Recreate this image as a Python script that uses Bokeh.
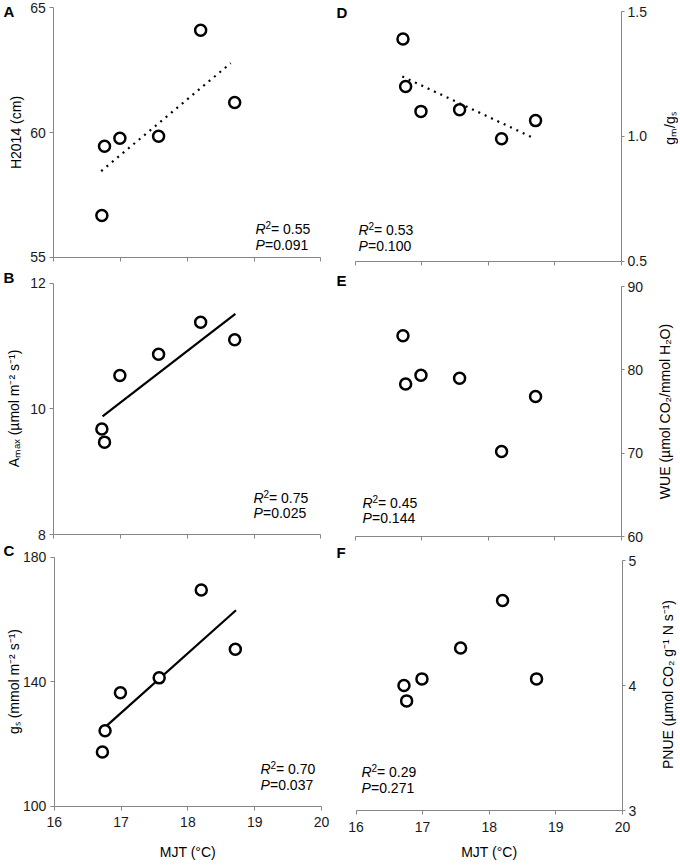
import math
from bokeh.plotting import figure
from bokeh.models import Range1d, Label, FixedTicker, NumeralTickFormatter
from bokeh.layouts import column, row
from bokeh.embed import file_html
from bokeh.resources import INLINE

# ---------------- data ----------------
mjt = [16.72, 16.76, 16.99, 17.57, 18.20, 18.71]

h2014 = [56.67, 59.45, 59.77, 59.85, 64.10, 61.20]
amax = [9.68, 9.47, 10.53, 10.87, 11.38, 11.10]
gs = [117.4, 124.2, 136.4, 141.2, 169.4, 150.4]
gm_gs = [1.39, 1.20, 1.10, 1.107, 0.99, 1.063]
wue = [84.1, 78.3, 79.35, 79.0, 70.2, 76.8]
pnue = [4.00, 3.877, 4.053, 4.30, 4.68, 4.053]

trend_a_x = [16.71, 18.65]
trend_a_y = [58.45, 62.78]
trend_b_x = [16.73, 18.72]
trend_b_y = [9.88, 11.51]
trend_c_x = [16.74, 18.72]
trend_c_y = [125.0, 162.9]
trend_d_x = [16.71, 18.65]
trend_d_y = [1.24, 0.997]

x_ticks = [16, 17, 18, 19, 20]
ticks_a = [55, 60, 65]
ticks_b = [8, 10, 12]
ticks_c = [100, 140, 180]
ticks_d = [0.5, 1.0, 1.5]
ticks_e = [60, 70, 80, 90]
ticks_f = [3, 4, 5]

r2_texts = ["0.55", "0.75", "0.70", "0.53", "0.45", "0.29"]
p_texts = ["0.091", "0.025", "0.037", "0.100", "0.144", "0.271"]
letters = ["A", "B", "C", "D", "E", "F"]
ylabels = [
    "H2014 (cm)",
    "A\u2098\u2090\u2093 (\u00b5mol m\u207b\u00b2 s\u207b\u00b9)",
    "g\u209b (mmol m\u207b\u00b2 s\u207b\u00b9)",
    "g\u2098/g\u209b",
    "WUE (\u00b5mol CO\u2082/mmol H\u2082O)",
    "PNUE (\u00b5mol CO\u2082 g\u207b\u00b9 N s\u207b\u00b9)",
]
xlabel = "MJT (\u00b0C)"

# ---------------- style / layout ----------------
FONT = "Liberation Sans"
AXIS_COL = "#868686"
LEFT_W, RIGHT_W = 334, 344
LEFT_ROWS = [(0, 270), (270, 272), (542, 318)]    # (top, height) page px
RIGHT_ROWS = [(0, 272), (272, 273), (545, 315)]


def make_panel(col_off, W, row, ys, yticks, frame, side, letter, letter_xy,
               ylabel, ylabel_xy, r2, pv, stats_xy, bottom_row,
               trend=None, dotted=False):
    row_off, H = row
    fx0, fx1, fy_top, fy_bot = frame
    lo, hi = yticks[0], yticks[-1]
    sx = (fx1 - fx0) / (x_ticks[-1] - x_ticks[0])
    x_start = x_ticks[0] - (fx0 - col_off) / sx
    x_end = x_ticks[-1] + (col_off + W - fx1) / sx
    sy = (fy_bot - fy_top) / (hi - lo)
    y_end = hi + (fy_top - row_off) / sy
    y_start = lo - (row_off + H - fy_bot) / sy

    p = figure(width=W, height=H, x_range=Range1d(x_start, x_end),
               y_range=Range1d(y_start, y_end), y_axis_location=side,
               min_border=0, output_backend="svg", toolbar_location=None)
    p.title.visible = False
    p.outline_line_color = None
    p.xgrid.visible = False
    p.ygrid.visible = False
    p.background_fill_color = "white"
    p.border_fill_color = "white"
    for ax in p.axis:
        ax.axis_line_color = AXIS_COL
        ax.axis_line_width = 1
        ax.major_tick_line_color = AXIS_COL
        ax.minor_tick_line_color = None
        ax.major_tick_out = 4
        ax.major_tick_in = 0
        ax.major_label_text_font = FONT
        ax.major_label_text_font_size = "14px"
        ax.major_label_text_color = "#1a1a1a"
    p.xaxis.ticker = FixedTicker(ticks=x_ticks)
    p.xaxis.fixed_location = lo
    p.xaxis.bounds = (x_ticks[0], x_ticks[-1])
    p.yaxis.ticker = FixedTicker(ticks=yticks)
    p.yaxis.fixed_location = x_ticks[0] if side == "left" else x_ticks[-1]
    p.yaxis.bounds = (lo, hi)
    p.yaxis.major_label_standoff = 4 if side == "left" else 3
    if side == "right":
        p.yaxis.major_tick_out = 3
    if lo < 1:
        p.yaxis.formatter = NumeralTickFormatter(format="0.0")
    if bottom_row:
        p.xaxis.major_label_standoff = 7
    else:
        p.xaxis.major_label_text_color = None

    if trend is not None:
        p.line(trend[0], trend[1], line_color="black", line_width=2.2,
               line_dash="2 5" if dotted else "solid")
    p.scatter(mjt, ys, size=11, fill_color="white", line_color="black",
              line_width=2.5)

    def put(x, y, text, size="14px", style="normal", angle=0.0,
            align="left"):
        p.add_layout(Label(x=x - col_off, y=H - (y - row_off),
                           x_units="screen", y_units="screen", text=text,
                           text_font=FONT, text_font_size=size,
                           text_font_style=style, text_color="black",
                           angle=angle, text_align=align,
                           text_baseline="middle"))

    put(ylabel_xy[0], ylabel_xy[1], ylabel, angle=math.pi / 2,
        align="center")
    put(letter_xy[0], letter_xy[1], letter, size="15px", style="bold")
    x0, ry, py = stats_xy
    put(x0, ry, "R", style="italic")
    put(x0 + 10, ry - 4, "2", size="10px")
    put(x0 + 15.5, ry, "= " + r2)
    put(x0, py, "P", style="italic")
    put(x0 + 9.5, py, "=" + pv)
    if bottom_row:
        put((fx0 + fx1) / 2, 851, xlabel, align="center")
    return p


pA = make_panel(0, LEFT_W, LEFT_ROWS[0], h2014, ticks_a,
                (53.3, 320.3, 7.3, 256.7), "left", letters[0], (3, 11),
                ylabels[0], (15, 132), r2_texts[0], p_texts[0],
                (255, 228, 244), False, (trend_a_x, trend_a_y), True)
pB = make_panel(0, LEFT_W, LEFT_ROWS[1], amax, ticks_b,
                (53.3, 320.3, 282.7, 534), "left", letters[1], (3, 277),
                ylabels[1], (13, 408), r2_texts[1], p_texts[1],
                (253, 497, 512), False, (trend_b_x, trend_b_y))
pC = make_panel(0, LEFT_W, LEFT_ROWS[2], gs, ticks_c,
                (53.8, 321, 556.5, 805.7), "left", letters[2], (3, 550),
                ylabels[2], (13, 681), r2_texts[2], p_texts[2],
                (260, 768, 784), True, (trend_c_x, trend_c_y))
pD = make_panel(LEFT_W, RIGHT_W, RIGHT_ROWS[0], gm_gs, ticks_d,
                (354.5, 621, 11, 260.7), "right", letters[3], (336, 12),
                ylabels[3], (669, 128), r2_texts[3], p_texts[3],
                (358, 229, 245), False, (trend_d_x, trend_d_y), True)
pE = make_panel(LEFT_W, RIGHT_W, RIGHT_ROWS[1], wue, ticks_e,
                (354.5, 621, 286, 536), "right", letters[4], (336, 280),
                ylabels[4], (664, 411), r2_texts[4], p_texts[4],
                (362, 502, 517), False)
pF = make_panel(LEFT_W, RIGHT_W, RIGHT_ROWS[2], pnue, ticks_f,
                (355.5, 622, 560, 810), "right", letters[5], (336, 552),
                ylabels[5], (667, 684), r2_texts[5], p_texts[5],
                (361, 771, 787), True)

layout = row(column(pA, pB, pC), column(pD, pE, pF))

open("out.html", "w").write(file_html(layout, INLINE))
